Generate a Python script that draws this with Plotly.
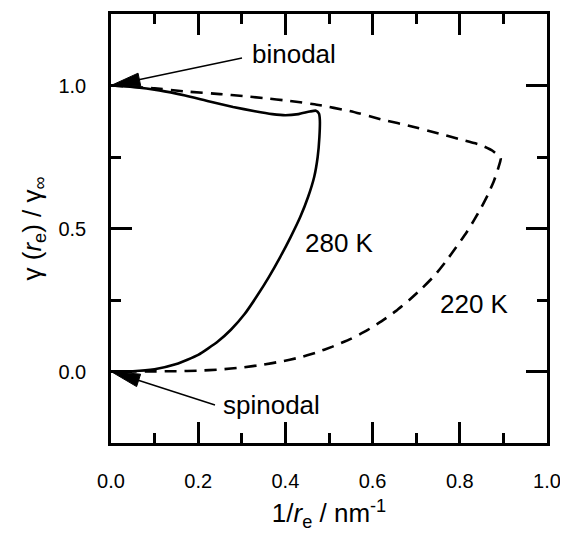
import plotly.graph_objects as go

# ---- data ----
x_280 = [0.0, 0.05, 0.111, 0.17, 0.226, 0.28, 0.33, 0.37, 0.40, 0.43, 0.456, 0.470, 0.477, 0.479,
         0.478, 0.474, 0.466, 0.452, 0.434, 0.412, 0.388, 0.362, 0.334, 0.306, 0.275, 0.245, 0.20,
         0.15, 0.10, 0.05, 0.0]
y_280 = [1.0, 0.995, 0.983, 0.965, 0.944, 0.925, 0.910, 0.900, 0.896, 0.900, 0.909, 0.912, 0.902, 0.88,
         0.82, 0.75, 0.68, 0.61, 0.54, 0.47, 0.40, 0.33, 0.262, 0.20, 0.146, 0.105, 0.058,
         0.026, 0.008, 0.001, 0.0]

x_220 = [0.0, 0.1, 0.172, 0.25, 0.302, 0.349, 0.41, 0.472, 0.55, 0.624, 0.69, 0.747, 0.80, 0.846,
         0.875, 0.894, 0.888, 0.878, 0.865, 0.850, 0.833, 0.815, 0.792, 0.768, 0.743, 0.714, 0.684,
         0.654, 0.62, 0.585, 0.55, 0.508, 0.47, 0.43, 0.39, 0.35, 0.30, 0.25, 0.20, 0.15, 0.0]
y_220 = [1.0, 0.99, 0.979, 0.97, 0.963, 0.956, 0.946, 0.933, 0.91, 0.880, 0.857, 0.834, 0.812, 0.793,
         0.772, 0.746, 0.71, 0.665, 0.62, 0.575, 0.53, 0.485, 0.435, 0.385, 0.337, 0.292, 0.25,
         0.212, 0.175, 0.142, 0.114, 0.087, 0.066, 0.048, 0.035, 0.024, 0.014, 0.007, 0.003, 0.001, 0.0]

x_ticks = [0.0, 0.2, 0.4, 0.6, 0.8, 1.0]
y_ticks = [0.0, 0.5, 1.0]

# ---- layout constants ----
# The page body has an 8px default margin, so the figure is drawn 8px smaller
# and the margins are reduced accordingly to put the frame at the target place.
BODY = 8
W, H = 568 - BODY, 540 - BODY
ML, MR, MT, MB = 111 - BODY, 21, 14 - BODY, 97
XR = [0.0, 1.0]
YR = [-0.25, 1.25]
FONT = "Liberation Sans, Arial, Helvetica, sans-serif"

PW = W - ML - MR
PH = H - MT - MB


def px2x(p):
    return XR[0] + (p - ML) / PW * (XR[1] - XR[0])


def py2y(p):
    return YR[0] + (MT + PH - p) / PH * (YR[1] - YR[0])


def x2px(v):
    return ML + (v - XR[0]) / (XR[1] - XR[0]) * PW


def y2py(v):
    return MT + PH - (v - YR[0]) / (YR[1] - YR[0]) * PH


fig = go.Figure()
fig.add_trace(go.Scatter(x=x_280, y=y_280, mode="lines",
                         line=dict(color="black", width=2.6, shape="spline", smoothing=0.5),
                         showlegend=False, hoverinfo="skip"))
fig.add_trace(go.Scatter(x=x_220, y=y_220, mode="lines",
                         line=dict(color="black", width=2.6, dash="12px,8px", shape="spline", smoothing=0.4),
                         showlegend=False, hoverinfo="skip"))

shapes = []


def arrow(tip_val, tail_px, head_len=29, head_w=13):
    # tail_px given in page pixels of the target picture
    tail = (tail_px[0] - BODY, tail_px[1] - BODY)
    tx, ty = x2px(tip_val[0]), y2py(tip_val[1])
    dx, dy = tail[0] - tx, tail[1] - ty
    L = (dx * dx + dy * dy) ** 0.5
    ux, uy = dx / L, dy / L
    bx, by = tx + ux * head_len, ty + uy * head_len
    nx, ny = -uy, ux
    c1 = (bx + nx * head_w / 2, by + ny * head_w / 2)
    c2 = (bx - nx * head_w / 2, by - ny * head_w / 2)
    path = "M {},{} L {},{} L {},{} Z".format(
        px2x(tx), py2y(ty), px2x(c1[0]), py2y(c1[1]), px2x(c2[0]), py2y(c2[1]))
    shapes.append(dict(type="path", path=path, xref="x", yref="y",
                       fillcolor="black", line=dict(color="black", width=1)))
    shapes.append(dict(type="line", xref="x", yref="y",
                       x0=px2x(bx - ux * 2), y0=py2y(by - uy * 2),
                       x1=px2x(tail[0]), y1=py2y(tail[1]),
                       line=dict(color="black", width=1.4)))


arrow((0.0, 1.0), (242, 58))
arrow((0.0, 0.0), (215, 405))


def pgx(p):
    return px2x(p - BODY)


def pgy(p):
    return py2y(p - BODY)


ann_font = dict(family=FONT, size=26, color="black")
annotations = [
    dict(text="binodal", x=pgx(294), y=pgy(54), xref="x", yref="y", showarrow=False, font=ann_font),
    dict(text="spinodal", x=pgx(271), y=pgy(405), xref="x", yref="y", showarrow=False, font=ann_font),
    dict(text="280 K", x=pgx(339), y=pgy(243), xref="x", yref="y", showarrow=False, font=ann_font),
    dict(text="220 K", x=pgx(474), y=pgy(304), xref="x", yref="y", showarrow=False, font=ann_font),
]

axis_common = dict(showline=True, linecolor="black", linewidth=2.6, mirror="ticks",
                   ticks="inside", ticklen=21, tickwidth=2.6, tickcolor="black",
                   showgrid=False, zeroline=False,
                   tickfont=dict(family=FONT, size=20, color="black"),
                   tickformat=".1f")

fig.update_xaxes(range=XR, tickvals=x_ticks, ticklabelstandoff=18,
                 minor=dict(dtick=0.1, tick0=0, ticks="inside", ticklen=10, tickwidth=2.6, tickcolor="black"),
                 title=dict(text="1/<i>r</i><sub>e</sub> / nm<sup>-1</sup>",
                            font=dict(family=FONT, size=26, color="black"), standoff=14),
                 **axis_common)
fig.update_yaxes(range=YR, tickvals=y_ticks, ticklabelstandoff=18,
                 minor=dict(dtick=0.25, tick0=0, ticks="inside", ticklen=10, tickwidth=2.6, tickcolor="black"),
                 title=dict(text="γ (<i>r</i><sub>e</sub>) / γ<sub>∞</sub>",
                            font=dict(family=FONT, size=26, color="black"), standoff=10),
                 **axis_common)

fig.update_layout(width=W, height=H, margin=dict(l=ML, r=MR, t=MT, b=MB, autoexpand=False),
                  paper_bgcolor="white", plot_bgcolor="white",
                  shapes=shapes, annotations=annotations, showlegend=False)

fig.write_html("out.html")
